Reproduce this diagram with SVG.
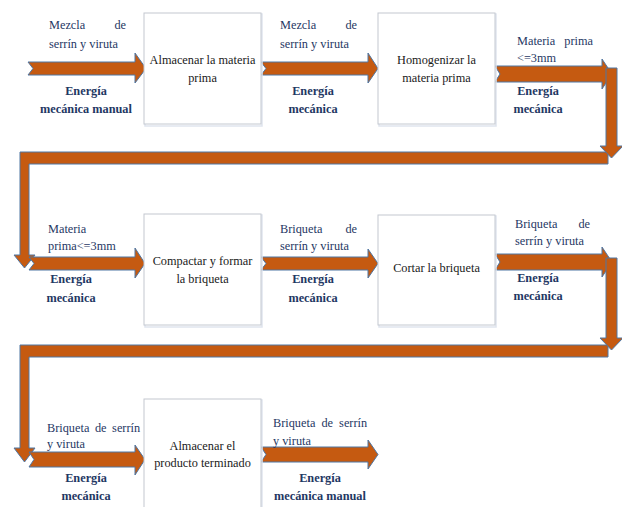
<svg xmlns="http://www.w3.org/2000/svg" width="622" height="507" viewBox="0 0 622 507">
<style>
.box{fill:#ffffff;stroke:#c3c8d0;stroke-width:1}
.shadow{fill:none;stroke:#dfe5ee;stroke-width:1.5}
.arr{fill:#c55a11;stroke:#4f76a3;stroke-width:1;stroke-linejoin:miter}
.bt{font-size:12.3px;fill:#1a1a1a;text-anchor:middle}
.lb{font-size:12.3px;fill:#1f3864}
.en{font-size:12.3px;font-weight:bold;fill:#1f3864;text-anchor:middle}
.end{text-anchor:end}
</style>
<rect width="622" height="507" fill="#ffffff"/>
<g id="connectors">
  <path class="arr" d="M28,62 L135,62 L135,53 L146,68.5 L135,83 L135,75 L28,75 L33,68.5 Z"/>
  <path class="arr" d="M261,62 L368,62 L368,53 L378,68.5 L368,83 L368,75 L261,75 L266,68.5 Z"/>
  <path class="arr" d="M495,66 L602,66 L602,59 L612,74 L602,89 L602,82 L495,82 L500,74 Z"/>
  <path class="arr" d="M608,152 L20,152 L20,255 L14,255 L24.5,268 L35,255 L29,255 L29,164 L608,164 Z"/>
  <path class="arr" d="M606,68 L617,68 L617,146 L623,146 L611.5,158 L600,146 L606,146 Z"/>
  <path class="arr" d="M29,257 L135,257 L135,248 L145,263.5 L135,278 L135,270 L29,270 L34,263.5 Z"/>
  <path class="arr" d="M261,257 L368,257 L368,249 L378,263.5 L368,278 L368,270 L261,270 L266,263.5 Z"/>
  <path class="arr" d="M495,254 L602,254 L602,247 L612,262 L602,277 L602,270 L495,270 L500,262 Z"/>
  <path class="arr" d="M608,345 L20,345 L20,448 L14,448 L24.5,462 L35,448 L29,448 L29,357 L608,357 Z"/>
  <path class="arr" d="M606,258 L617,258 L617,338 L623,338 L611.5,350 L600,338 L606,338 Z"/>
  <path class="arr" d="M29,452 L135,452 L135,445 L145,459.5 L135,475 L135,467 L29,467 L34,459.5 Z"/>
  <path class="arr" d="M261,447 L368,447 L368,440 L378,454.5 L368,469 L368,462 L261,462 L266,454.5 Z"/>
</g>
<g id="labels" font-family="Liberation Serif, Times New Roman, DejaVu Serif, serif">
  <text class="lb" x="49" y="29">Mezcla</text><text class="lb end" x="126" y="29">de</text>
  <text class="lb" x="49" y="48">serrín y viruta</text>
  <text class="en" x="86" y="95">Energía</text><text class="en" x="86" y="113">mecánica manual</text>

  <text class="lb" x="280" y="29">Mezcla</text><text class="lb end" x="357" y="29">de</text>
  <text class="lb" x="280" y="48">serrín y viruta</text>
  <text class="en" x="313" y="95">Energía</text><text class="en" x="313" y="113">mecánica</text>

  <text class="lb" x="517" y="45">Materia</text><text class="lb end" x="593" y="45">prima</text>
  <text class="lb" x="517" y="62">&lt;=3mm</text>
  <text class="en" x="538" y="95">Energía</text><text class="en" x="538" y="113">mecánica</text>

  <text class="lb" x="48" y="233">Materia</text>
  <text class="lb" x="48" y="250">prima&lt;=3mm</text>
  <text class="en" x="71" y="283">Energía</text><text class="en" x="71" y="302">mecánica</text>

  <text class="lb" x="280" y="233">Briqueta</text><text class="lb end" x="357" y="233">de</text>
  <text class="lb" x="280" y="250">serrín y viruta</text>
  <text class="en" x="313" y="283">Energía</text><text class="en" x="313" y="302">mecánica</text>

  <text class="lb" x="515" y="228">Briqueta</text><text class="lb end" x="590" y="228">de</text>
  <text class="lb" x="515" y="245">serrín y viruta</text>
  <text class="en" x="538" y="282">Energía</text><text class="en" x="538" y="300">mecánica</text>

  <text class="lb" x="47" y="432" word-spacing="2.5">Briqueta de serrín</text>
  <text class="lb" x="47" y="448">y viruta</text>
  <text class="en" x="86" y="482">Energía</text><text class="en" x="86" y="500">mecánica</text>

  <text class="lb" x="273" y="427" word-spacing="3">Briqueta de serrín</text>
  <text class="lb" x="273" y="445">y viruta</text>
  <text class="en" x="320" y="482">Energía</text><text class="en" x="320" y="500">mecánica manual</text>
</g>
<g id="n1" font-family="Liberation Serif, Times New Roman, DejaVu Serif, serif">
  <rect class="shadow" x="145" y="14" width="117" height="112"/>
  <rect class="box" x="144" y="13" width="117" height="111"/>
  <text class="bt" x="202.5" y="64">Almacenar la materia</text>
  <text class="bt" x="202.5" y="82">prima</text>
</g>
<g id="n2" font-family="Liberation Serif, Times New Roman, DejaVu Serif, serif">
  <rect class="shadow" x="379" y="14" width="117" height="112"/>
  <rect class="box" x="378" y="13" width="117" height="111"/>
  <text class="bt" x="436.5" y="64">Homogenizar la</text>
  <text class="bt" x="436.5" y="82">materia prima</text>
</g>
<g id="n3" font-family="Liberation Serif, Times New Roman, DejaVu Serif, serif">
  <rect class="shadow" x="145" y="215" width="117" height="112"/>
  <rect class="box" x="144" y="214" width="117" height="111"/>
  <text class="bt" x="202.5" y="265">Compactar y formar</text>
  <text class="bt" x="202.5" y="283">la briqueta</text>
</g>
<g id="n4" font-family="Liberation Serif, Times New Roman, DejaVu Serif, serif">
  <rect class="shadow" x="379" y="216" width="117" height="111"/>
  <rect class="box" x="378" y="215" width="117" height="110"/>
  <text class="bt" x="436.5" y="272">Cortar la briqueta</text>
</g>
<g id="n5" font-family="Liberation Serif, Times New Roman, DejaVu Serif, serif">
  <rect class="shadow" x="145" y="400" width="117" height="120"/>
  <rect class="box" x="144" y="399" width="117" height="120"/>
  <text class="bt" x="202.5" y="450">Almacenar el</text>
  <text class="bt" x="202.5" y="467">producto terminado</text>
</g>
</svg>
